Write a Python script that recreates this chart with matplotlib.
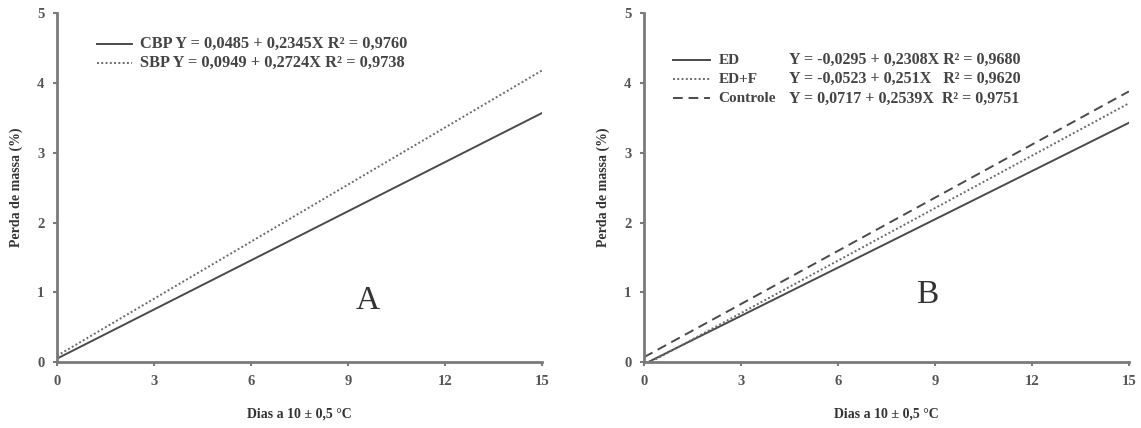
import numpy as np
import matplotlib
matplotlib.use("Agg")
import matplotlib.pyplot as plt

# ------------------------------- Dados ---------------------------------------
dias = [0, 15]                 # eixo x (dias a 10 °C)
cbp = [0.05, 3.57]             # painel A, com BP
sbp = [0.09, 4.18]             # painel A, sem BP
ed = [-0.03, 3.43]             # painel B
ed_f = [-0.05, 3.71]
controle = [0.07, 3.88]

ticks_x = [0, 3, 6, 9, 12, 15]
ticks_y = [0, 1, 2, 3, 4, 5]

eq_a = [("CBP", "Y = 0,0485 + 0,2345X R² = 0,9760"),
        ("SBP", "Y = 0,0949 + 0,2724X R² = 0,9738")]
eq_b = [("ED", "Y = -0,0295 + 0,2308X R² = 0,9680"),
        ("ED+F", "Y = -0,0523 + 0,251X   R² = 0,9620"),
        ("Controle", "Y = 0,0717 + 0,2539X  R² = 0,9751")]

# ------------------------------- Estilo --------------------------------------
plt.rcParams['font.family'] = ['Liberation Serif', 'DejaVu Serif']
cor_linha = '#4a4a4a'
cor_eixo = '#7a7a7a'
cor_texto = '#333333'
cor_leg = '#444444'

fig = plt.figure(figsize=(11.41, 4.28), dpi=100)
ax_a = fig.add_axes([0.050, 0.154, 0.425, 0.815])
ax_b = fig.add_axes([0.5644, 0.154, 0.425, 0.815])


def formata(ax, letra, lx, ly):
    ax.set_xlim(0, 15)
    ax.set_ylim(0, 5)
    ax.set_xticks(ticks_x)
    ax.set_yticks(ticks_y)
    for s in ['top', 'right']:
        ax.spines[s].set_visible(False)
    for s in ['left', 'bottom']:
        ax.spines[s].set_color(cor_eixo)
        ax.spines[s].set_linewidth(2)
    ax.tick_params(colors=cor_eixo, width=1.5, length=3, labelsize=10.5,
                   labelcolor='#555555', pad=6)
    for lb in ax.get_xticklabels() + ax.get_yticklabels():
        lb.set_fontweight('bold')
    ax.set_xlabel('Dias a 10 ± 0,5 °C', fontsize=10, fontweight='bold',
                  color=cor_texto, labelpad=14)
    ax.set_ylabel('Perda de massa (%)', fontsize=10, fontweight='bold',
                  color=cor_texto, labelpad=10)
    ax.text(lx, ly, letra, fontsize=24, color=cor_texto, ha='center', va='center')


#   Painel A
ax_a.plot(dias, cbp, color=cor_linha, lw=1.4, ls='-')
ax_a.plot(dias, sbp, color='#6a6a6a', lw=1.4, ls=(0, (1, 1.2)))
formata(ax_a, 'A', 9.6, 0.88)

estilos_a = [dict(ls='-', color=cor_linha), dict(ls=(0, (1, 1.2)), color='#6a6a6a')]
for i, (nome, eq) in enumerate(eq_a):
    y = 0.911 - i * 0.054
    ax_a.plot([0.082, 0.155], [y, y], transform=ax_a.transAxes, lw=1.4,
              clip_on=False, **estilos_a[i])
    ax_a.text(0.171, y, f'{nome} {eq}', transform=ax_a.transAxes,
              fontsize=11.8, fontweight='bold', color=cor_leg, va='center')

#   Painel B
ax_b.plot(dias, ed, color=cor_linha, lw=1.4, ls='-')
ax_b.plot(dias, ed_f, color='#6a6a6a', lw=1.4, ls=(0, (1, 1.2)))
ax_b.plot(dias, controle, color=cor_linha, lw=1.4, ls=(0, (5, 3)))
formata(ax_b, 'B', 8.75, 0.96)

estilos_b = [dict(ls='-', color=cor_linha), dict(ls=(0, (1, 1.2)), color='#6a6a6a'),
             dict(ls=(0, (5, 3)), color=cor_linha)]
for i, (nome, eq) in enumerate(eq_b):
    y = 0.865 - i * 0.0545
    ax_b.plot([0.06, 0.136], [y, y], transform=ax_b.transAxes, lw=1.4,
              clip_on=False, **estilos_b[i])
    ax_b.text(0.154, y, nome, transform=ax_b.transAxes, fontsize=11,
              fontweight='bold', color=cor_leg, va='center')
    ax_b.text(0.299, y, eq, transform=ax_b.transAxes,
              fontsize=11.5, fontweight='bold', color=cor_leg, va='center')

fig.savefig('out.png', dpi=100)
